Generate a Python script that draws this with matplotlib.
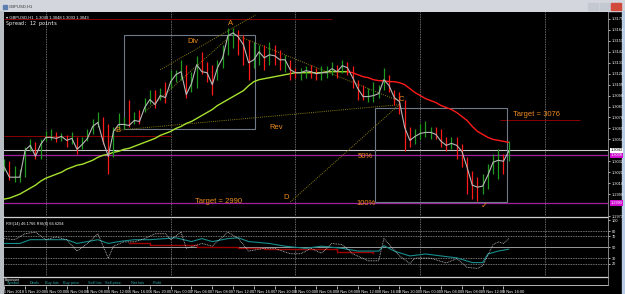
import numpy as np
import matplotlib.pyplot as plt
from matplotlib.patches import Rectangle
from matplotlib.lines import Line2D

plt.rcParams['font.family'] = ['Liberation Sans', 'DejaVu Sans']

# ---- data (GBPUSD H1) ----
close = [1.3026, 1.3016, 1.3016, 1.3016, 1.3043, 1.3048, 1.3037, 1.3049, 1.3056, 1.3056,
         1.3055, 1.3057, 1.3053, 1.3055, 1.3044, 1.3049, 1.3055, 1.3067, 1.3071, 1.3052,
         1.3037, 1.3062, 1.3069, 1.3069, 1.3068, 1.3073, 1.3072, 1.3086, 1.3094, 1.3089,
         1.3098, 1.3096, 1.3112, 1.3119, 1.3122, 1.3099, 1.3110, 1.3129, 1.3122, 1.3121,
         1.3109, 1.3126, 1.3136, 1.3158, 1.3161, 1.3157, 1.3149, 1.3131, 1.3134, 1.3142,
         1.3136, 1.3139, 1.3138, 1.3134, 1.3134, 1.3124, 1.3121, 1.3121, 1.3123, 1.3122,
         1.3120, 1.3121, 1.3121, 1.3125, 1.3122, 1.3128, 1.3126, 1.3116, 1.3105, 1.3097,
         1.3097, 1.3098, 1.3100, 1.3114, 1.3108, 1.3096, 1.3092, 1.3066, 1.3053, 1.3057,
         1.3060, 1.3061, 1.3061, 1.3059, 1.3052, 1.3048, 1.3050, 1.3048, 1.3042, 1.3026,
         1.3008, 1.3006, 1.3007, 1.3018, 1.3031, 1.3033, 1.3032, 1.3042]
high = [1.3034, 1.3032, 1.3027, 1.3024, 1.3046, 1.3054, 1.3051, 1.3054, 1.3062, 1.3064,
        1.3061, 1.3060, 1.3058, 1.3061, 1.3056, 1.3056, 1.3064, 1.3074, 1.3082, 1.3076,
        1.3069, 1.3066, 1.3081, 1.3076, 1.3094, 1.3082, 1.3084, 1.3096, 1.3104, 1.3104,
        1.3106, 1.3112, 1.3124, 1.3124, 1.3134, 1.3129, 1.3122, 1.3138, 1.3142, 1.3132,
        1.3129, 1.3134, 1.3149, 1.3166, 1.3166, 1.3164, 1.3159, 1.3154, 1.3152, 1.3149,
        1.3149, 1.3152, 1.3149, 1.3144, 1.3139, 1.3134, 1.3126, 1.3126, 1.3128, 1.3129,
        1.3126, 1.3128, 1.3128, 1.3132, 1.3129, 1.3134, 1.3132, 1.3128, 1.3114, 1.3109,
        1.3106, 1.3112, 1.3109, 1.3126, 1.3119, 1.3104, 1.3102, 1.3094, 1.3066, 1.3064,
        1.3069, 1.3072, 1.3066, 1.3066, 1.3064, 1.3056, 1.3056, 1.3056, 1.3049, 1.3036,
        1.3022, 1.3016, 1.3019, 1.3029, 1.3039, 1.3044, 1.3039, 1.3052]
low = [1.3022, 1.3013, 1.3011, 1.3011, 1.3016, 1.3042, 1.3034, 1.3034, 1.3052, 1.3053,
       1.3051, 1.3052, 1.3046, 1.3049, 1.3039, 1.3044, 1.3052, 1.3059, 1.3066, 1.3049,
       1.3019, 1.3036, 1.3064, 1.3064, 1.3066, 1.3069, 1.3069, 1.3082, 1.3090, 1.3086,
       1.3094, 1.3091, 1.3106, 1.3112, 1.3114, 1.3096, 1.3102, 1.3106, 1.3120, 1.3112,
       1.3099, 1.3114, 1.3126, 1.3139, 1.3146, 1.3139, 1.3129, 1.3114, 1.3126, 1.3129,
       1.3124, 1.3129, 1.3129, 1.3124, 1.3122, 1.3114, 1.3116, 1.3114, 1.3116, 1.3116,
       1.3114, 1.3114, 1.3116, 1.3119, 1.3116, 1.3121, 1.3119, 1.3106, 1.3094, 1.3094,
       1.3092, 1.3092, 1.3096, 1.3104, 1.3102, 1.3089, 1.3079, 1.3042, 1.3046, 1.3049,
       1.3054, 1.3056, 1.3054, 1.3054, 1.3046, 1.3042, 1.3044, 1.3034, 1.3026, 1.2999,
       1.2994, 1.2992, 1.2999, 1.3004, 1.3019, 1.3014, 1.3019, 1.3032]
ma = [1.2994, 1.2995, 1.2997, 1.2999, 1.3002, 1.3005, 1.3008, 1.3012, 1.3015, 1.3017,
      1.3019, 1.3021, 1.3024, 1.3026, 1.3028, 1.3029, 1.3031, 1.3033, 1.3036, 1.3038,
      1.3039, 1.3041, 1.3042, 1.3044, 1.3045, 1.3047, 1.3049, 1.3051, 1.3053, 1.3055,
      1.3058, 1.3060, 1.3062, 1.3065, 1.3067, 1.3070, 1.3072, 1.3075, 1.3078, 1.3081,
      1.3084, 1.3088, 1.3091, 1.3094, 1.3097, 1.3100, 1.3103, 1.3108, 1.3112, 1.3114,
      1.3115, 1.3116, 1.3117, 1.3118, 1.3119, 1.3120, 1.3121, 1.3121, 1.3121, 1.3121,
      1.3121, 1.3121, 1.3122, 1.3122, 1.3122, 1.3122, 1.3122, 1.3121, 1.3119, 1.3117,
      1.3116, 1.3114, 1.3113, 1.3113, 1.3112, 1.3112, 1.3111, 1.3109, 1.3105, 1.3101,
      1.3098, 1.3095, 1.3093, 1.3091, 1.3088, 1.3086, 1.3084, 1.3081, 1.3077, 1.3073,
      1.3067, 1.3062, 1.3059, 1.3056, 1.3054, 1.3053, 1.3052, 1.3051]
ma_turn = 66  # bar where the MA switches from rising (green) to falling (red)

bid = 1.3043
fib50 = 1.3038
fib100 = 1.2990
# dark red level segments: price, first bar, last bar
level_price = [1.3175, 1.3057, 1.3073]
level_from = [0, 0, 95.4]
level_to = [63, 32, 110.8]

price_ticks = [1.3175, 1.3164, 1.3153, 1.3142, 1.3131, 1.3120, 1.3109, 1.3098, 1.3087,
               1.3076, 1.3065, 1.3054, 1.3032, 1.3021, 1.3010, 1.2999, 1.2977]

time_labels = ['5 Nov 2018', '5 Nov 20:00', '6 Nov 00:00', '6 Nov 04:00', '6 Nov 08:00',
               '6 Nov 12:00', '6 Nov 16:00', '6 Nov 20:00', '7 Nov 00:00', '7 Nov 04:00',
               '7 Nov 08:00', '7 Nov 12:00', '7 Nov 16:00', '7 Nov 20:00', '8 Nov 00:00',
               '8 Nov 04:00', '8 Nov 08:00', '8 Nov 12:00', '8 Nov 16:00', '8 Nov 20:00',
               '9 Nov 00:00', '9 Nov 04:00', '9 Nov 08:00', '9 Nov 12:00', '9 Nov 16:00']
day_breaks = [8, 32, 56, 80, 104]

# RSI subwindow
rsi_bars = [0, 3, 5, 8, 12, 14, 18, 20, 22, 25, 28, 31, 33, 36, 38, 40, 43, 45, 47, 51,
            54, 58, 61, 65, 68, 72, 73, 75, 78, 81, 84, 87, 90, 92, 93, 95, 97]
rsi_vals = [57, 57, 64, 64, 64, 57, 64, 57, 60.5, 64, 64, 66, 67.5, 60.5, 66, 60.5, 66, 67.5,
            60.5, 57, 52, 48, 52, 48, 43, 43, 53, 43, 34, 37.6, 34, 30.5, 21.7, 21.7, 37.6,
            43, 46.4]
fast_bars = [0, 2, 4, 6, 8, 10, 12, 14, 16, 18, 20, 21, 23, 25, 27, 29, 31, 32, 34, 35,
             38, 40, 43, 45, 47, 50, 52, 55, 57, 59, 61, 63, 65, 67, 70, 72, 73, 76, 78, 79,
             82, 85, 87, 89, 91, 92, 94, 95, 96, 97]
fast_vals = [66, 64, 75, 78, 64, 69, 64, 43, 57, 75, 30, 52, 60, 60, 66, 75, 75, 64, 78, 48,
             57, 52, 78, 66, 43, 48, 48, 38, 38, 48, 39, 57, 55, 38, 25, 25, 66, 34, 20, 30,
             30, 21, 29, 13, 11, 16, 55, 60, 57, 66]
sig_bars = [24, 28, 37, 45, 50, 64, 71]
sig_vals = [57, 54, 51, 48, 46, 42, 40]
rsi_levels = [80, 70, 30, 20]

W, H = 625, 294


def box(x0, y0, x1, y1):
    return [x0 / W, 1 - y1 / H, (x1 - x0) / W, (y1 - y0) / H]


def hline(y, x0, x1, color, lw=0.8):
    fig.add_artist(Line2D([x0 / W, x1 / W], [1 - y / H, 1 - y / H],
                          transform=fig.transFigure, color=color, lw=lw))


fig = plt.figure(figsize=(6.25, 2.94), dpi=100, facecolor='black')

# window frame
fig.add_artist(Rectangle((0, 1 - 11 / H), 1, 11 / H, transform=fig.transFigure,
                         color='#d3d7dd', zorder=0))
fig.add_artist(Rectangle((0, 0), 3 / W, 1 - 11 / H, transform=fig.transFigure,
                         color='#b9bdc4', zorder=0))
fig.add_artist(Rectangle((622 / W, 0), 3 / W, 1 - 11 / H, transform=fig.transFigure,
                         color='#b8cce4', zorder=0))
fig.add_artist(Rectangle((3 / W, 1 - 9 / H), 4 / W, 4 / H, transform=fig.transFigure,
                         color='#5a7fb0', zorder=1))
fig.text(9 / W, 1 - 6.8 / H, 'GBPUSD,H1', fontsize=3, color='#303030', va='center')
for bx, bc in zip([588, 600, 611], ['#c4c8d0', '#c4c8d0', '#d24a3c']):
    fig.add_artist(Rectangle((bx / W, 1 - 9.5 / H), 10 / W, 6 / H,
                             transform=fig.transFigure, color=bc, zorder=1))

x = np.arange(len(close))
xlim = (-0.05, 116.1)

# ---- main chart ----
ax = fig.add_axes(box(4, 12, 608, 216))
ax.set_facecolor('black')
ax.set_xlim(*xlim)
ax.set_ylim(1.2978, 1.3182)
for s in ax.spines.values():
    s.set_visible(False)
ax.set_xticks([])
ax.yaxis.tick_right()
ax.set_yticks(price_ticks)
ax.set_yticklabels(['%.4f' % p for p in price_ticks])
ax.tick_params(axis='y', colors='white', labelsize=2.8, length=1.5, width=0.5, pad=1)

for d in day_breaks:
    ax.axvline(d, color='#8c8c8c', ls=(0, (1, 1)), lw=0.6, zorder=1)

ax.hlines(level_price, level_from, level_to, color='#8b0000', lw=0.7, zorder=1)
ax.axhline(bid, color='#c8c8c8', lw=0.8, zorder=1)
ax.axhline(fib50, color='#a020a0', lw=0.9, zorder=1)
ax.axhline(fib100, color='#a020a0', lw=0.9, zorder=1)

ax.add_patch(Rectangle((23.1, 1.3064), 25.2, 0.0095, fill=False, ec='#6f7a8a', lw=0.8))
ax.add_patch(Rectangle((71.3, 1.2991), 25.4, 0.0095, fill=False, ec='#6f7a8a', lw=0.8))

dot = dict(color='#8a7d10', ls=(0, (1, 1.2)), lw=0.7, zorder=2)
ax.plot([30, 48.3], [1.3124, 1.3179], **dot)
ax.plot([27.1, 43.1], [1.3082, 1.3156], **dot)
ax.plot([45.4, 76.2], [1.3157, 1.3092], **dot)
ax.plot([21.3, 76.2], [1.3063, 1.3089], **dot)
ax.plot([55, 76.2], [1.2991, 1.3090], **dot)

ax.plot(x[:ma_turn + 1], ma[:ma_turn + 1], color='#a6e22e', lw=1.0, zorder=2)
ax.plot(x[ma_turn:], ma[ma_turn:], color='#ff1a1a', lw=1.0, zorder=2)

bar_colors = ['#ff1a1a' if i > 0 and close[i] < close[i - 1] else '#1f9a1f'
              for i in range(len(close))]
ax.vlines(x, low, high, colors=bar_colors, lw=0.9, zorder=3)
ax.plot(x, close, color='#b8b8b8', lw=0.8, zorder=4)

orange = '#f08c1e'
txt = dict(color=orange, fontsize=5.5, ha='center', va='center', zorder=5)
ax.text(43.5, 1.3170, 'A', **txt)
ax.text(36.3, 1.3152, 'Div', **txt)
ax.text(21.9, 1.3063, 'B', **txt)
ax.text(52.3, 1.3066, 'Rev', **txt)
ax.text(76.4, 1.3094, 'C', **txt)
ax.text(54.2, 1.2996, 'D', **txt)
ax.text(69.5, 1.3037, '50%', **txt)
ax.text(69.5, 1.2990, '100%', **txt)
ax.text(41.2, 1.2992, 'Target = 2990', **txt)
ax.text(102.3, 1.3079, 'Target = 3076', **txt)
ax.text(92.3, 1.2988, '\u2713', color=orange, fontsize=6, ha='center', va='center',
        family='DejaVu Sans', zorder=5)

ax.text(0.003, 0.985, '\u25be GBPUSD,H1  1.3043 1.3048 1.3033 1.3043', transform=ax.transAxes,
        color='white', fontsize=3, va='top')
ax.text(0.003, 0.955, 'Spread: 12 points', transform=ax.transAxes, color='white',
        fontsize=3.6, va='top', family='DejaVu Sans Mono')

ytr = ax.get_yaxis_transform()
ax.text(1.004, bid, '%.4f' % bid, transform=ytr, fontsize=2.8, color='black', va='center',
        bbox=dict(boxstyle='square,pad=0.15', fc='white', ec='none'), zorder=6)
for p in (fib50, fib100):
    ax.text(1.004, p, '%.4f' % p, transform=ytr, fontsize=2.8, color='white', va='center',
            bbox=dict(boxstyle='square,pad=0.15', fc='#d010d0', ec='none'), zorder=6)

# ---- RSI subwindow ----
ax2 = fig.add_axes(box(4, 218, 608, 276))
ax2.set_facecolor('black')
ax2.set_xlim(*xlim)
ax2.set_ylim(-3, 104)
for s in ax2.spines.values():
    s.set_visible(False)
ax2.set_xticks([])
ax2.yaxis.tick_right()
ax2.set_yticks([100] + rsi_levels[:2] + [50] + rsi_levels[2:])
ax2.tick_params(axis='y', colors='white', labelsize=2.8, length=1.5, width=0.5, pad=1)
for d in day_breaks:
    ax2.axvline(d, color='#8c8c8c', ls=(0, (1, 1)), lw=0.6)
for lv in rsi_levels:
    ax2.axhline(lv, color='#9a9a9a', ls=(0, (1, 1)), lw=0.6)
ax2.axhline(50, color='#9a9a9a', lw=0.7)
ax2.plot(sig_bars, sig_vals, color='#a00000', lw=1.0, drawstyle='steps-post')
ax2.plot(rsi_bars, rsi_vals, color='#178c8c', lw=0.8)
ax2.plot(fast_bars, fast_vals, color='#c8c8c8', ls=(0, (1, 1)), lw=0.6)
ax2.text(0.003, 0.93, 'RSI(14) 46.1766 RSI(8) 66.6294', transform=ax2.transAxes,
         color='white', fontsize=2.8, va='top')

# separators
hline(217, 3, 608, '#d0d0d0', 0.9)
hline(276.5, 3, 608, '#d0d0d0', 0.9)
fig.add_artist(Line2D([608 / W, 608 / W], [1 - 285 / H, 1 - 12 / H],
                      transform=fig.transFigure, color='#9a9a9a', lw=0.6))

# exposure panel
fig.text(5 / W, 1 - 279.5 / H, 'Exposure', color='white', fontsize=2.6, va='center')
for cx, name in zip([7, 30, 45, 63, 88, 105, 131, 153],
                    ['Symbol', 'Deals', 'Buy lots', 'Buy price', 'Sell lots',
                     'Sell price', 'Net lots', 'Profit']):
    fig.text(cx / W, 1 - 283.3 / H, name, color='#2aa6a6', fontsize=2.8, va='center')

# time axis
ax3 = fig.add_axes(box(4, 285, 608, 286))
ax3.set_facecolor('black')
ax3.set_xlim(*xlim)
ax3.set_yticks([])
for s in ax3.spines.values():
    s.set_visible(False)
ax3.spines['top'].set_visible(True)
ax3.spines['top'].set_color('#d0d0d0')
ax3.spines['top'].set_linewidth(0.6)
ax3.set_xticks(list(range(0, 4 * len(time_labels), 4)))
ax3.set_xticklabels(time_labels, ha='left')
ax3.tick_params(axis='x', colors='white', labelsize=2.8, length=2, width=0.5, pad=0.8)

fig.savefig('out.png', dpi=100, facecolor='black')
